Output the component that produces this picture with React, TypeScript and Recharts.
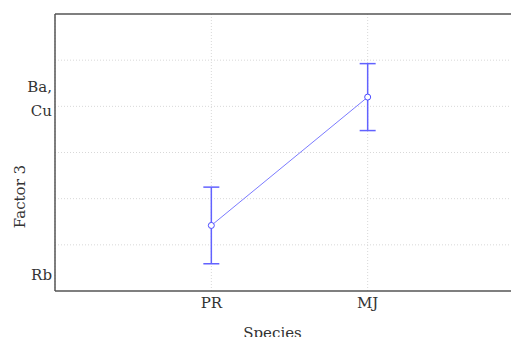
import React from 'react';
import { ComposedChart, Line, XAxis, YAxis, CartesianGrid, ErrorBar, ReferenceLine, Label } from 'recharts';

const species = ['PR', 'MJ'];
const speciesPos = [1, 2];
const means = [1.42, 4.2];
const errors = [0.83, 0.725];
const yLabelValues = [0.35, 3.9, 4.42];
const yLabelTexts = ['Rb', 'Cu', 'Ba,'];
const gridValues = [1, 2, 3, 4, 5];

const data = species.map((s, i) => ({ x: speciesPos[i], name: s, mean: means[i], err: errors[i] }));

const FONT = 'DejaVu Serif';

const YTick = (props: any) => {
  const { x, y, payload } = props;
  const idx = yLabelValues.indexOf(payload.value);
  return (
    <text x={x + 5} y={y} dy={5} textAnchor="end" fontFamily={FONT} fontSize={15} fill="#333">
      {idx >= 0 ? yLabelTexts[idx] : ''}
    </text>
  );
};

const YTitle = (props: any) => {
  const { viewBox } = props;
  const cx = 25;
  const cy = viewBox.y + viewBox.height / 2 + 44;
  return (
    <text x={cx} y={cy} transform={`rotate(-90, ${cx}, ${cy})`} textAnchor="middle" fontFamily={FONT} fontSize={15} fill="#333">
      Factor 3
    </text>
  );
};

export default function App() {
  return (
    <div style={{ margin: -8, width: 519, height: 345, overflow: 'hidden', background: '#fff' }}>
      <ComposedChart width={524} height={345} data={data} margin={{ top: 14, right: 0, left: 0, bottom: 0 }}>
        <CartesianGrid horizontalValues={gridValues} stroke="#d8d8d8" strokeDasharray="1 2" />
        <XAxis
          dataKey="x"
          type="number"
          domain={[0, 3]}
          ticks={speciesPos}
          tickFormatter={(v: number) => species[speciesPos.indexOf(v)] ?? ''}
          height={54}
          tickLine={false}
          axisLine={{ stroke: '#555', strokeWidth: 1.5 }}
          tick={{ fontFamily: FONT, fontSize: 15, fill: '#333' }}
          tickMargin={0}
        >
          <Label value="Species" position="insideBottom" offset={0} dx={-17} dy={-7} style={{ fontFamily: FONT, fontSize: 15, fill: '#333' }} />
        </XAxis>
        <YAxis
          type="number"
          domain={[0, 6]}
          ticks={yLabelValues}
          width={55}
          tickLine={false}
          axisLine={{ stroke: '#555', strokeWidth: 1.5 }}
          tick={<YTick />}
          interval={0}
        >
          <Label content={<YTitle />} />
        </YAxis>
        <ReferenceLine y={6} stroke="#555" strokeWidth={1.5} />
        <Line
          dataKey="mean"
          stroke="#7b7bff"
          strokeWidth={1}
          dot={{ r: 3, fill: '#fff', stroke: '#4a4aff', strokeWidth: 1 }}
          isAnimationActive={false}
        >
          <ErrorBar dataKey="err" width={8} stroke="#6262ff" strokeWidth={1.5} />
        </Line>
      </ComposedChart>
    </div>
  );
}
